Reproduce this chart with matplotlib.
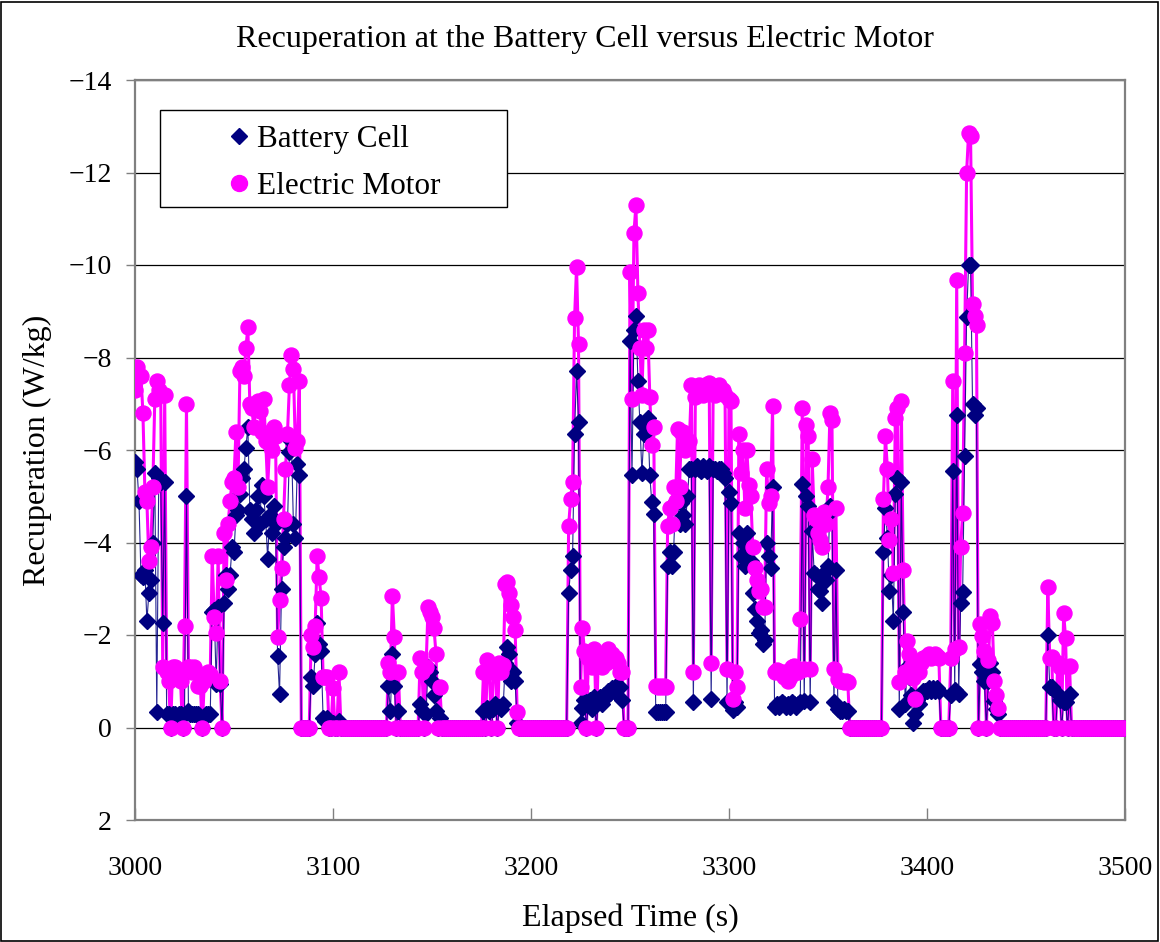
import matplotlib
matplotlib.use("Agg")
import matplotlib.pyplot as plt
import numpy as np
from matplotlib.patches import Rectangle

# Recuperation (W/kg), one sample per second from t = 3000 s to t = 3500 s
start_time = 3000

battery_cell = [
    -5.75, -5.6, -4.9, -3.3, -3.25, -3.4, -2.3, -2.9, -3.2, -4.0,
    -5.5, -0.33, -5.4, -5.3, -2.25, -5.3, -0.3, -0.3, 0, -0.3,
    -0.3, -0.25, -0.3, -0.3, 0, -0.3, -5.0, -0.35, -0.3, -0.3,
    -0.3, -0.3, -0.3, -0.2, 0, -0.2, -0.3, -0.3, -0.3, -2.5,
    -2.55, -0.95, -2.6, -0.95, 0, -2.7, -3.3, -3.0, -3.3, -3.9,
    -3.8, -4.6, -4.7, -5.05, -5.4, -5.6, -6.05, -6.5, -4.7, -4.5,
    -4.2, -4.7, -5.0, -4.4, -5.25, -5.0, -4.5, -3.65, -4.6, -4.2,
    -4.8, -4.4, -1.55, -0.73, -3.0, -3.9, -4.1, -4.4, -5.95, -6.2,
    -4.4, -4.1, -5.7, -5.45, 0, 0, 0, 0, 0, -1.1,
    -0.9, -1.6, -2.25, -1.8, -1.65, -0.2, -0.15, -0.2, 0, 0,
    -0.1, 0, 0, -0.15, 0, 0, 0, 0, 0, 0,
    0, 0, 0, 0, 0, 0, 0, 0, 0, 0,
    0, 0, 0, 0, 0, 0, 0, 0, -0.9, -0.35,
    -1.6, -0.9, 0, -0.35, 0, 0, 0, 0, 0, 0,
    0, 0, 0, 0, -0.5, -0.35, 0, -0.3, -1.3, -1.2,
    -1.0, -0.7, -0.35, 0, -0.2, 0, 0, 0, 0, 0,
    0, 0, 0, 0, 0, 0, 0, 0, 0, 0,
    0, 0, 0, 0, 0, 0, -0.35, 0, -0.43, -0.35,
    0, -0.4, -0.5, 0, -0.45, -0.4, -0.5, -1.4, -1.75, -1.6,
    -1.0, -1.2, -1.0, -0.1, 0, 0, 0, 0, 0, 0,
    0, 0, 0, 0, 0, 0, 0, 0, 0, 0,
    0, 0, 0, 0, 0, 0, 0, 0, 0, -2.9,
    -3.4, -3.7, -6.35, -7.7, -6.6, -0.1, -0.43, -0.6, 0, -0.55,
    -0.6, -0.4, -0.65, 0, -0.6, -0.65, -0.5, -0.7, -0.65, -0.8,
    -0.75, -0.85, -0.8, -0.9, -0.85, -0.87, -0.6, 0, 0, 0,
    -8.35, -5.45, -8.6, -8.9, -7.5, -6.6, -5.5, -6.35, -6.5, -6.7,
    -5.45, -4.87, -4.62, -0.33, -0.33, -0.33, -0.33, -0.33, -0.33, -3.5,
    -3.8, -3.5, -3.8, -4.9, -4.9, -4.4, -4.85, -4.6, -4.4, -5.0,
    -5.6, -5.6, -0.55, -5.6, -5.65, -5.6, -5.55, -5.65, -5.6, -5.55,
    -5.65, -0.62, -5.6, -5.6, -5.55, -5.6, -5.6, -5.5, -5.4, -0.55,
    -5.1, -4.85, -0.37, -0.55, -0.45, -4.2, -3.7, -4.0, -3.5, -4.2,
    -3.9, -3.6, -2.9, -2.57, -2.3, -2.05, -2.1, -1.8, -1.9, -4.0,
    -3.7, -3.45, -5.2, -0.45, -0.5, -0.45, -0.5, -0.55, -0.5, -0.45,
    -0.5, -0.45, -0.55, -0.5, -0.45, -0.5, -0.55, -5.27, -0.58, -5.0,
    -4.8, -0.55, -4.25, -3.35, -3.3, -3.0, -2.95, -2.7, -3.35, -3.2,
    -3.5, -4.8, -4.7, -0.55, -3.4, -0.4, -0.35, -0.35, -0.4, -0.35,
    -0.35, 0, 0, 0, 0, 0, 0, 0, 0, 0,
    0, 0, 0, 0, 0, 0, 0, 0, -3.8, -4.75,
    -4.1, -2.95, -3.3, -2.3, -5.05, -5.4, -0.4, -5.3, -2.5, -0.5,
    -1.3, -1.1, -0.7, -0.1, -0.3, -0.6, -0.5, -0.7, -0.8, -0.8,
    -0.8, -0.85, -0.8, -0.85, -0.8, -0.85, -0.8, 0, 0, 0,
    0, 0, -0.7, -5.55, -0.82, -6.75, -0.72, -2.7, -2.93, -5.87,
    -8.87, -10.0, -10.0, -7.0, -6.75, -6.9, 0, -1.37, -1.2, -1.0,
    0, -1.0, -1.4, -1.2, -0.57, -0.4, -0.3, 0, 0, 0,
    0, 0, 0, 0, 0, 0, 0, 0, 0, 0,
    0, 0, 0, 0, 0, 0, 0, 0, 0, 0,
    0, -2.0, -0.87, -0.87, 0, 0, -0.73, -0.6, 0, -0.55,
    -0.55, 0, -0.73, 0, 0, 0, 0, 0, 0, 0,
    0, 0, 0, 0, 0, 0, 0, 0, 0, 0,
    0, 0, 0, 0, 0, 0, 0, 0, 0, 0,
    0,
]

electric_motor = [
    -7.3, -7.8, -7.6, -7.6, -6.8, -5.1, -4.9, -3.6, -3.9, -5.2,
    -7.1, -7.5, -7.3, -7.2, -1.3, -7.2, -1.2, -1.0, 0, -1.3,
    -1.3, -1.1, -1.2, -1.0, 0, -2.2, -7.0, -1.3, -1.3, -1.2,
    -1.3, -1.2, -0.9, -0.9, 0, -1.0, -1.1, -1.2, -1.15, -3.7,
    -2.4, -2.05, -3.7, -1.0, 0, -4.2, -3.2, -4.4, -4.9, -5.3,
    -5.4, -6.4, -5.2, -7.7, -7.8, -7.6, -8.2, -8.65, -7.0, -6.9,
    -6.5, -6.9, -7.05, -6.85, -6.4, -7.1, -6.2, -5.2, -6.1, -6.0,
    -6.5, -6.3, -1.95, -2.75, -3.45, -4.5, -5.6, -6.35, -7.4, -8.05,
    -7.75, -6.05, -6.2, -7.5, 0, 0, 0, 0, 0, -2.0,
    -1.75, -2.2, -3.7, -3.25, -2.8, -1.1, -1.1, -1.1, 0, 0,
    -0.85, 0, 0, -1.2, 0, 0, 0, 0, 0, 0,
    0, 0, 0, 0, 0, 0, 0, 0, 0, 0,
    0, 0, 0, 0, 0, 0, 0, 0, -1.4, -1.2,
    -2.85, -1.95, 0, -1.2, 0, 0, 0, 0, 0, 0,
    0, 0, 0, 0, -1.5, -1.2, 0, -1.3, -2.6, -2.5,
    -2.4, -2.15, -1.6, 0, -0.87, 0, 0, 0, 0, 0,
    0, 0, 0, 0, 0, 0, 0, 0, 0, 0,
    0, 0, 0, 0, 0, 0, -1.2, 0, -1.45, -1.2,
    0, -1.3, -1.35, 0, -1.4, -1.2, -1.35, -3.1, -3.15, -2.9,
    -2.65, -2.4, -2.1, -0.33, 0, 0, 0, 0, 0, 0,
    0, 0, 0, 0, 0, 0, 0, 0, 0, 0,
    0, 0, 0, 0, 0, 0, 0, 0, 0, -4.35,
    -4.95, -5.3, -8.85, -9.95, -8.3, -0.87, -2.15, -1.65, 0, -1.5,
    -1.6, -1.3, -1.7, 0, -1.5, -1.6, -1.3, -1.5, -1.4, -1.7,
    -1.5, -1.6, -1.5, -1.5, -1.4, -1.2, -1.2, 0, 0, 0,
    -9.85, -7.1, -10.7, -11.3, -9.4, -8.2, -7.2, -8.6, -8.2, -8.6,
    -7.15, -6.1, -6.5, -0.9, -0.87, -0.9, -0.87, -0.9, -0.87, -4.35,
    -4.75, -4.4, -5.2, -4.9, -6.45, -5.2, -6.4, -6.4, -6.0, -6.2,
    -6.2, -7.4, -1.2, -7.15, -7.3, -7.4, -7.3, -7.2, -7.4, -7.3,
    -7.45, -1.4, -7.3, -7.2, -7.3, -7.4, -7.3, -7.3, -7.2, -1.27,
    -7.1, -7.05, -0.62, -1.2, -0.87, -6.35, -5.5, -6.0, -4.75, -6.0,
    -5.25, -5.0, -3.9, -3.45, -3.2, -2.95, -3.0, -2.6, -2.6, -5.6,
    -4.85, -5.0, -6.95, -1.2, -1.25, -1.2, -1.2, -1.2, -1.1, -1.2,
    -1.0, -1.1, -1.3, -1.33, -1.2, -1.2, -2.35, -6.9, -1.27, -6.55,
    -6.3, -1.27, -5.8, -4.6, -4.5, -4.2, -4.05, -3.9, -4.65, -4.4,
    -5.2, -6.8, -6.65, -1.27, -4.75, -1.05, -1.0, -1.0, -0.98, -1.0,
    -0.98, 0, 0, 0, 0, 0, 0, 0, 0, 0,
    0, 0, 0, 0, 0, 0, 0, 0, -4.95, -6.3,
    -5.6, -4.05, -4.5, -3.35, -6.7, -6.9, -0.98, -7.05, -3.4, -1.2,
    -1.88, -1.6, -1.3, -1.08, -0.62, -1.33, -1.2, -1.4, -1.5, -1.5,
    -1.55, -1.6, -1.5, -1.55, -1.6, -1.55, -1.5, 0, 0, 0,
    0, 0, -1.5, -7.5, -1.7, -9.67, -1.75, -3.9, -4.63, -8.1,
    -12.0, -12.85, -12.8, -9.15, -8.9, -8.7, 0, -2.23, -1.97, -1.66,
    0, -1.45, -2.42, -2.25, -1.0, -0.7, -0.43, 0, 0, 0,
    0, 0, 0, 0, 0, 0, 0, 0, 0, 0,
    0, 0, 0, 0, 0, 0, 0, 0, 0, 0,
    0, -3.03, -1.5, -1.53, 0, 0, -1.4, -1.3, 0, -2.48,
    -1.93, 0, -1.34, 0, 0, 0, 0, 0, 0, 0,
    0, 0, 0, 0, 0, 0, 0, 0, 0, 0,
    0, 0, 0, 0, 0, 0, 0, 0, 0, 0,
    0,
]

series_labels = ["Battery Cell", "Electric Motor"]
x_ticks = [3000, 3100, 3200, 3300, 3400, 3500]
y_ticks = [-14, -12, -10, -8, -6, -4, -2, 0, 2]

elapsed = start_time + np.arange(len(electric_motor))

plt.rcParams["font.family"] = ["Liberation Serif", "DejaVu Serif"]

navy = "#000080"
magenta = "#FF00FF"
W, H = 1160, 942

fig = plt.figure(figsize=(W / 100, H / 100), dpi=100)
ax = fig.add_axes([135 / W, 1 - 820 / H, 990 / W, 740 / H])

# connecting lines first, markers on top (motor markers uppermost)
ax.plot(elapsed, electric_motor, color=magenta, lw=2.2, zorder=2)
ax.plot(elapsed, battery_cell, color=navy, lw=0.8, alpha=0.85, zorder=2.5)
ax.plot(elapsed, battery_cell, ls="none", marker="D", ms=7.8,
        mfc=navy, mec=navy, zorder=3)
ax.plot(elapsed, electric_motor, ls="none", marker="o", ms=10.8,
        mfc=magenta, mec=magenta, zorder=4)

ax.set_xlim(3000, 3500)
ax.set_ylim(2, -14)
ax.set_xticks(x_ticks)
ax.set_yticks(y_ticks)
ax.set_xticklabels([str(v) for v in x_ticks])
ax.set_yticklabels([str(v).replace("-", "\u2212") for v in y_ticks])
ax.yaxis.grid(True, color="black", lw=0.9)
ax.set_axisbelow(True)
for sp in ax.spines.values():
    sp.set_color("#808080")
    sp.set_linewidth(1.6)
ax.tick_params(axis="y", direction="out", length=6.5, width=1,
               color="#808080", labelsize=20, pad=10)
ax.tick_params(axis="x", direction="in", length=9, width=1,
               color="#808080", labelsize=20, pad=26)

ax.set_xlabel("Elapsed Time (s)", fontsize=23, va="center")
ax.xaxis.set_label_coords(0.5, (820 - 918) / 740)
ax.set_ylabel("Recuperation (W/kg)", fontsize=23, va="center")
ax.yaxis.set_label_coords((37 - 135) / 990, 0.5)
fig.text(585 / W, 1 - 40 / H, "Recuperation at the Battery Cell versus Electric Motor",
         ha="center", va="center", fontsize=23)


# legend box drawn in axes coordinates
def ax_x(px):
    return (px - 135) / 990


def ax_y(py):
    return (820 - py) / 740


ax.add_patch(Rectangle((ax_x(160), ax_y(207)), ax_x(507) - ax_x(160),
                       ax_y(110) - ax_y(207), transform=ax.transAxes,
                       facecolor="white", edgecolor="black", lw=1.0,
                       zorder=5, clip_on=False))
legend_rows = [(ax_y(136), "D", 8.0, navy), (ax_y(183), "o", 11.5, magenta)]
for (ry, mk, ms, col), label in zip(legend_rows, series_labels):
    ax.plot([ax_x(239)], [ry], transform=ax.transAxes, ls="none", marker=mk,
            ms=ms, mfc=col, mec=col, zorder=6, clip_on=False)
    ax.text(ax_x(257), ry, label, transform=ax.transAxes, ha="left",
            va="center_baseline", fontsize=22.5, zorder=6)

# outer border around the whole figure
fig.patches.append(Rectangle((0.001, 0.001), 0.997, 0.997, transform=fig.transFigure,
                             fill=False, edgecolor="black", lw=1.2))

fig.savefig("out.png", dpi=100)
